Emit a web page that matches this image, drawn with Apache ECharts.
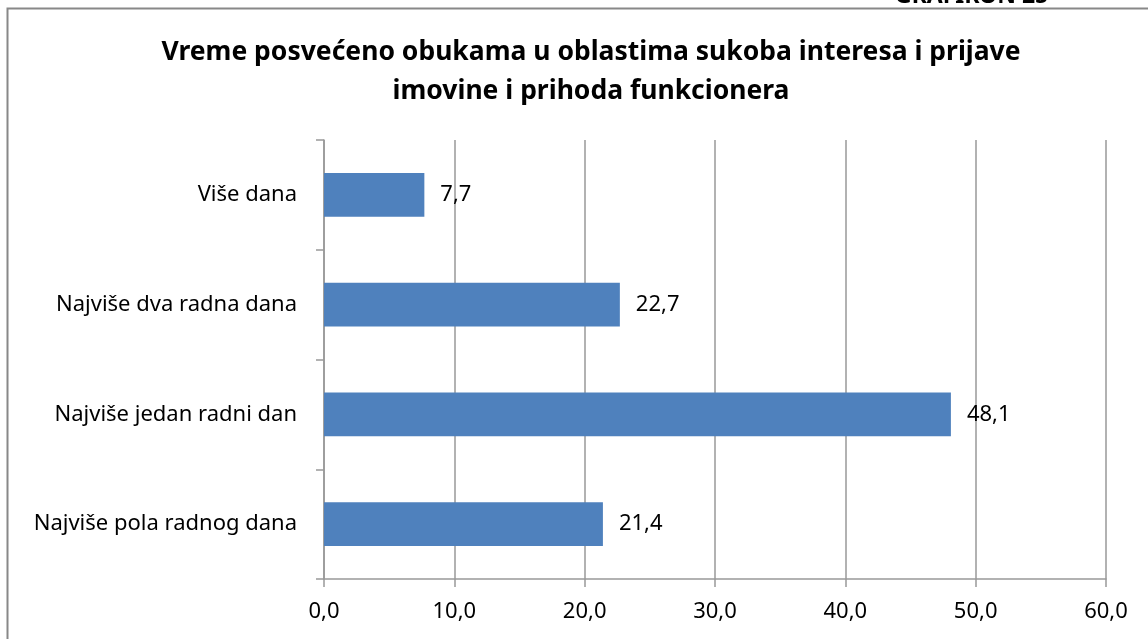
<!DOCTYPE html>
<html><head><meta charset="utf-8">
<script src="https://cdn.jsdelivr.net/npm/echarts@6/dist/echarts.min.js"></script>
<style>html,body{margin:0;padding:0;background:#fff}#c{width:1148px;height:639px}</style>
</head><body><div id="c"></div>
<script>
const categories = ['Najviše pola radnog dana', 'Najviše jedan radni dan', 'Najviše dva radna dana', 'Više dana'];
const values = [21.4, 48.1, 22.7, 7.7];
const xTicks = [0, 10, 20, 30, 40, 50, 60];
const titleText = 'Vreme posvećeno obukama u oblastima sukoba interesa i prijave\nimovine i prihoda funkcionera';
const fmt = v => v.toFixed(1).replace('.', ',');
const chart = echarts.init(document.getElementById('c'));
const FONT = 'Noto Sans';
chart.setOption({
  animation: false,
  title: {
    text: titleText, left: 586, top: 28, textAlign: 'center',
    textStyle: { fontFamily: FONT, fontSize: 26.5, fontWeight: 'bold', color: '#000', lineHeight: 39 }
  },
  graphic: [
    { type: 'rect', shape: { x: 7.5, y: 8.5, width: 1300, height: 700 }, style: { fill: 'none', stroke: '#888', lineWidth: 2 }, silent: true },
    { type: 'text', x: 895, y: 7.5, z: 10, style: { text: 'GRAFIKON 25', font: 'bold 23px "Noto Sans"', fill: '#000', verticalAlign: 'bottom', align: 'left' } }
  ],
  grid: { left: 324, right: 42, top: 140, bottom: 60 },
  xAxis: {
    type: 'value', min: xTicks[0], max: xTicks[xTicks.length - 1], interval: 10,
    axisLine: { show: true, lineStyle: { color: '#999', width: 1.5 } },
    axisTick: { show: true, length: 8, lineStyle: { color: '#999', width: 1.5 } },
    splitLine: { show: true, lineStyle: { color: '#999', width: 1.5 } },
    axisLabel: { formatter: v => fmt(v), fontFamily: FONT, fontSize: 22, color: '#000', margin: 22 }
  },
  yAxis: {
    type: 'category', data: categories,
    axisLine: { show: true, lineStyle: { color: '#999', width: 1.5 } },
    axisTick: { show: true, length: 8, lineStyle: { color: '#999', width: 1.5 } },
    axisLabel: { fontFamily: FONT, fontSize: 22, color: '#000', margin: 27 }
  },
  series: [{
    type: 'bar', data: values, barWidth: '40%',
    itemStyle: { color: '#4F81BD' },
    label: { show: true, position: 'right', distance: 16, formatter: p => fmt(p.value), fontFamily: FONT, fontSize: 22, color: '#000' }
  }]
});
</script></body></html>
